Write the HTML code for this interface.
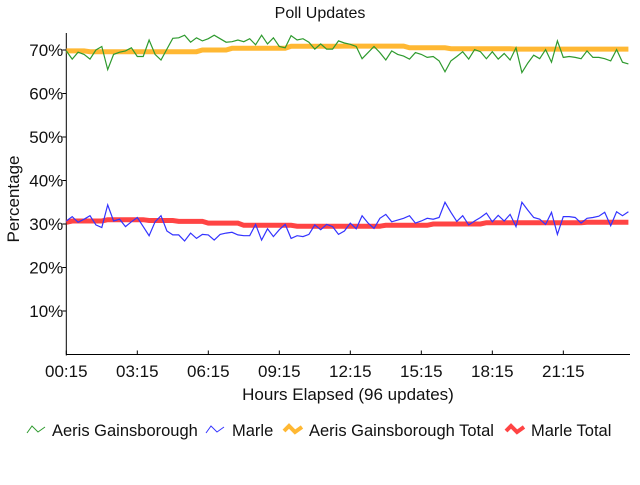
<!DOCTYPE html>
<html><head><meta charset="utf-8"><style>
body{margin:0;background:#fff}
svg text{font-family:"Liberation Sans Narrow","Liberation Sans",sans-serif;fill:#111}
</style></head><body>
<svg id="chart" width="640" height="480" xmlns="http://www.w3.org/2000/svg">
<text x="320" y="18" font-size="16" text-anchor="middle">Poll Updates</text>
<g id="plot"></g>
<text x="348" y="400" font-size="17" text-anchor="middle">Hours Elapsed (96 updates)</text>
<text x="0" y="0" font-size="17" text-anchor="middle" transform="translate(19,199) rotate(-90)">Percentage</text>
<g>
<g><polyline points="27,433 32,426 38,432 45,427" fill="none" stroke="#2e9a2e" stroke-width="1"/><text x="52" y="436" font-size="16.5">Aeris Gainsborough</text></g>
<g><polyline points="206,433 211,426 217,432 224,427" fill="none" stroke="#3333ff" stroke-width="1"/><text x="232" y="436" font-size="16.5">Marle</text></g>
<g><polyline points="284,431 289,426 295,432 302,427" fill="none" stroke="#ffb833" stroke-width="4"/><text x="309" y="436" font-size="16.5">Aeris Gainsborough Total</text></g>
<g><polyline points="506,431 511,426 517,432 524,427" fill="none" stroke="#ff4444" stroke-width="4"/><text x="531" y="436" font-size="16.5">Marle Total</text></g>
</g>
</svg>
<script>
const xTickLabels=["00:15","03:15","06:15","09:15","12:15","15:15","18:15","21:15"];
const yTicks=[10,20,30,40,50,60,70];
const aeris=[69.8,67.9,69.5,69,67.9,70,70.8,65.5,69,69.5,69.8,70.5,68.5,68.5,72.3,69,67.7,70.2,72.7,72.8,73.4,71.8,72.8,72.1,72.6,73.4,72.6,71.8,71.9,72.3,71.9,72.6,71.2,73.4,71.4,72.8,70.8,70.5,73.3,72.3,72.6,71.8,70.2,71.4,70.2,70.2,72.1,71.6,71.3,70.8,68,69.4,70.8,69.4,67.7,69.8,69,68.6,67.9,69.4,69,68.3,68.5,67.5,65,67.5,68.5,69.6,67.9,70.1,69.6,68,69.6,67.9,69.2,67.7,70.5,64.8,67,68.8,68,70.1,67.2,72.1,68.3,68.5,68.3,68,69.8,68.3,68.3,68,67.5,70.1,67.2,66.8];
const marle=[30.7,31.7,30.4,31.1,31.9,29.8,29.2,34.4,30.7,31.1,29.4,30.5,31.5,29.4,27.3,30.5,31.9,28.4,27.5,27.5,26.1,27.9,26.7,27.6,27.5,26.3,27.6,27.9,28.1,27.5,27.3,27.3,29.9,26.3,28.9,27.1,28.7,29.9,26.7,27.3,27.1,27.6,29.8,28.7,29.9,29.4,27.6,28.4,30.2,28.9,31.9,30.2,29.0,31.3,32.2,30.5,30.9,31.3,31.9,30.2,30.7,31.3,31.1,31.5,35.0,32.7,30.6,31.9,29.8,30.7,31.5,32.5,30.5,32.0,30.7,32.2,29.4,35.0,33.2,31.5,31.1,29.9,32.7,27.6,31.7,31.7,31.5,30.2,31.3,31.5,31.8,32.7,29.6,32.8,31.9,32.8];
const aerisTotal=[69.8,69.8,69.8,69.8,69.6,69.6,69.6,69.6,69.6,69.6,69.6,69.6,69.6,69.6,69.6,69.6,69.6,69.6,69.6,69.6,69.6,69.6,69.6,70.0,70.0,70.0,70.0,70.0,70.4,70.4,70.4,70.4,70.4,70.4,70.4,70.4,70.4,70.4,70.85,70.85,70.85,70.85,70.85,70.85,70.85,70.85,70.85,70.9,70.9,70.9,70.9,70.9,70.9,70.9,70.9,70.9,70.9,70.9,70.5,70.5,70.5,70.5,70.5,70.5,70.5,70.3,70.3,70.3,70.3,70.3,70.3,70.3,70.3,70.3,70.3,70.3,70.2,70.2,70.2,70.2,70.2,70.2,70.2,70.2,70.2,70.2,70.2,70.2,70.2,70.2,70.2,70.2,70.2,70.2,70.2,70.2];
const marleTotal=[30.4,30.7,30.7,30.7,30.7,30.7,30.7,31.0,31.0,31.0,31.0,31.0,31.0,31.0,30.8,30.8,30.8,30.8,30.8,30.6,30.6,30.6,30.6,30.6,30.2,30.2,30.2,30.2,30.2,30.2,29.7,29.7,29.7,29.7,29.7,29.7,29.7,29.7,29.7,29.5,29.5,29.5,29.5,29.5,29.5,29.5,29.5,29.5,29.5,29.5,29.5,29.5,29.5,29.5,29.7,29.7,29.7,29.7,29.7,29.7,29.7,29.7,30.0,30.0,30.0,30.0,30.0,30.0,30.0,30.0,30.0,30.3,30.3,30.3,30.3,30.3,30.3,30.3,30.3,30.3,30.3,30.3,30.3,30.3,30.3,30.3,30.3,30.3,30.4,30.4,30.4,30.4,30.4,30.4,30.4,30.4];

const NS="http://www.w3.org/2000/svg";
const X0=66.3,STEP=5.917,Y0=354.5,YS=4.35,TOP=33,RIGHT=630;
const xs=i=>X0+i*STEP;
const ys=v=>Y0-v*YS;
const plot=document.getElementById('plot');
function mk(tag,attrs,parent){const e=document.createElementNS(NS,tag);for(const k in attrs)e.setAttribute(k,attrs[k]);(parent||plot).appendChild(e);return e;}

const yAxis=mk('line',{x1:X0,y1:TOP,x2:X0,y2:Y0+1,stroke:'#000','stroke-width':1});


const xAxis=mk('line',{x1:X0,y1:Y0,x2:RIGHT,y2:Y0,stroke:'#000','stroke-width':1});



yTicks.forEach(v=>{
  const y=ys(v);
  const t=mk('line',{x1:X0-4,y1:y,x2:X0,y2:y,stroke:'#000'});
  
  
  const l=mk('text',{x:X0-3,y:y+6,'font-size':17,'text-anchor':'end'});
  l.textContent=v+'%';
  
  
});
xTickLabels.forEach((s,k)=>{
  const x=xs(k*12);
  const t=mk('line',{x1:x,y1:Y0,x2:x,y2:Y0-4,stroke:'#000'});
  
  
  const l=mk('text',{x:x,y:377,'font-size':17,'text-anchor':'middle'});
  l.textContent=s;
  
  
});
function series(arr,color,w,name){
  const p=mk('polyline',{points:arr.map((v,i)=>xs(i).toFixed(1)+','+ys(v).toFixed(1)).join(' '),fill:'none',stroke:color,'stroke-width':w,'stroke-linejoin':'miter'});
  
  
}
series(aerisTotal,'#ffb833',5,'aeris-total-line');
series(marleTotal,'#ff4444',5,'marle-total-line');
series(aeris,'#2e9a2e',1.2,'aeris-line');
series(marle,'#3333ff',1.2,'marle-line');
</script>
</body></html>
